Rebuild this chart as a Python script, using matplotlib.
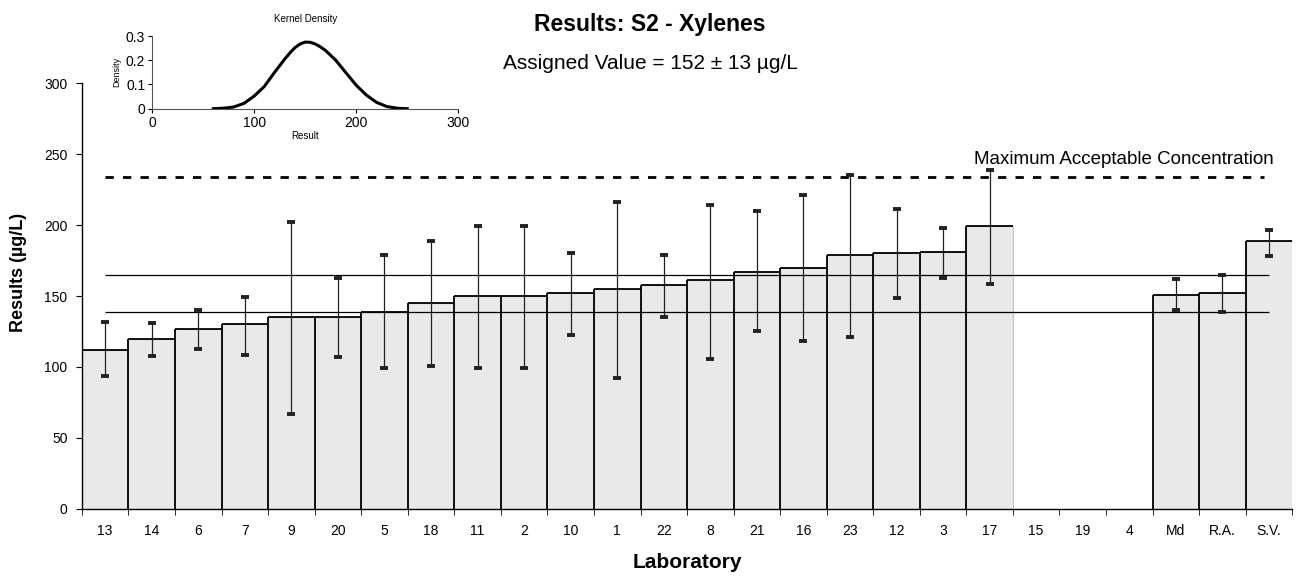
import numpy as np
import matplotlib
matplotlib.use("Agg")
import matplotlib.pyplot as plt

plt.rcParams['font.family'] = ['Liberation Sans', 'DejaVu Sans']

labs = ['13', '14', '6', '7', '9', '20', '5', '18', '11', '2', '10', '1', '22',
        '8', '21', '16', '23', '12', '3', '17', '15', '19', '4', 'Md', 'R.A.', 'S.V.']
nan = np.nan
results = [112, 120, 127, 130, 135.5, 135.5, 139, 145, 150, 150, 152, 155, 158,
           161, 167, 170, 179, 180, 181, 199, nan, nan, nan, 151, 152, 188.5]
upper = [132, 131, 140, 149.5, 202, 163, 179, 189, 199, 199, 180, 216, 179,
         214, 210, 221, 235, 211, 198, 239, nan, nan, nan, 162, 165, 196.5]
lower = [93.5, 108, 113, 108.5, 67, 107, 99, 101, 99, 99, 122.5, 92.5, 135,
         105.5, 125, 118, 121, 148.5, 162.5, 158.5, nan, nan, nan, 140, 138.5, 178]

assigned = 152
uncert = 13
mac = 234

# kernel density curve
kd_x = [60, 70, 80, 90, 100, 110, 120, 130, 135, 140, 145, 150, 155, 160, 165,
        170, 180, 190, 200, 210, 220, 230, 240, 250]
kd_y = [0, 0.002, 0.007, 0.022, 0.052, 0.092, 0.15, 0.205, 0.23, 0.252, 0.267,
        0.275, 0.274, 0.267, 0.255, 0.24, 0.2, 0.148, 0.097, 0.056, 0.026, 0.009,
        0.002, 0]

res = np.array(results, dtype=float)
up = np.array(upper, dtype=float)
lo = np.array(lower, dtype=float)
x = np.arange(len(labs))
ok = ~np.isnan(res)

fig = plt.figure(figsize=(13, 5.77), dpi=100)
ax = fig.add_axes([0.063, 0.118, 0.931, 0.738])

ax.bar(x[ok], res[ok], width=1.0, color='#e9e9e9', edgecolor='#c4c4c4',
       linewidth=0.8, zorder=1)
# black left edges and tops, like the original step outline
ax.vlines(x[ok] - 0.5, 0, res[ok], color='black', linewidth=1.3, zorder=2)
ax.hlines(res[ok], x[ok] - 0.5, x[ok] + 0.5, color='black', linewidth=1.3, zorder=2)

ax.hlines([assigned - uncert, assigned + uncert], x[0], x[-1], color='black',
          linewidth=0.9, zorder=3)
ax.plot([x[0], x[-1] - 0.1], [mac, mac], color='black', linewidth=2.0,
        linestyle=(0, (3.0, 3.3)), dash_capstyle='butt', zorder=3)

ax.errorbar(x[ok], res[ok], yerr=[res[ok] - lo[ok], up[ok] - res[ok]], fmt='none',
            ecolor='#222222', elinewidth=0.9, capsize=3, capthick=2.8, zorder=4)

ax.text(x[-1] + 0.1, mac + 12, 'Maximum Acceptable Concentration', ha='right',
        va='center', fontsize=13.5)

ax.set_xlim(-0.5, len(labs) - 0.5)
ax.set_ylim(0, 300)
ax.set_yticks(np.arange(0, 301, 50))
ax.set_xticks(x)
ax.set_xticklabels(labs)
ax.set_xticks(np.arange(len(labs) + 1) - 0.5, minor=True)
ax.tick_params(axis='x', which='major', length=0, pad=11, labelsize=10)
ax.tick_params(axis='x', which='minor', length=4.3, direction='out')
ax.tick_params(axis='y', length=4.3, direction='out', pad=6, labelsize=10)
for s in ['top', 'right']:
    ax.spines[s].set_visible(False)
ax.spines['left'].set_linewidth(1.0)
ax.spines['bottom'].set_linewidth(1.0)

ax.set_xlabel('Laboratory', fontsize=15, fontweight='bold')
ax.xaxis.set_label_coords(0.5, -0.103)
ax.set_ylabel('Results (\u00b5g/L)', fontsize=13, fontweight='bold')
ax.yaxis.set_label_coords(-0.045, 0.556)

fig.text(0.5, 0.958, 'Results: S2 - Xylenes', ha='center', va='center',
         fontsize=16.5, fontweight='bold')
fig.text(0.5, 0.89, 'Assigned Value = 152 \u00b1 13 \u00b5g/L', ha='center',
         va='center', fontsize=15)

# inset kernel density
ins = fig.add_axes([0.117, 0.8116, 0.2355, 0.126])
ins.plot(kd_x, kd_y, color='black', linewidth=2.2)
ins.set_xlim(0, 300)
ins.set_ylim(0, 0.3)
ins.set_xticks([0, 100, 200, 300])
ins.set_yticks([0, 0.1, 0.2, 0.3])
ins.set_yticklabels(['0', '0.1', '0.2', '0.3'])
ins.tick_params(labelsize=10, length=3, direction='out', pad=2)
for s in ['top', 'right']:
    ins.spines[s].set_visible(False)
ins.spines['left'].set_color('#555555')
ins.spines['bottom'].set_color('#555555')
ins.patch.set_alpha(0)
ins.set_title('Kernel Density', fontsize=7, pad=10)
ins.set_xlabel('Result', fontsize=7, labelpad=1)
ins.set_ylabel('Density', fontsize=6.5, labelpad=3)

fig.savefig('out.png', dpi=100)
